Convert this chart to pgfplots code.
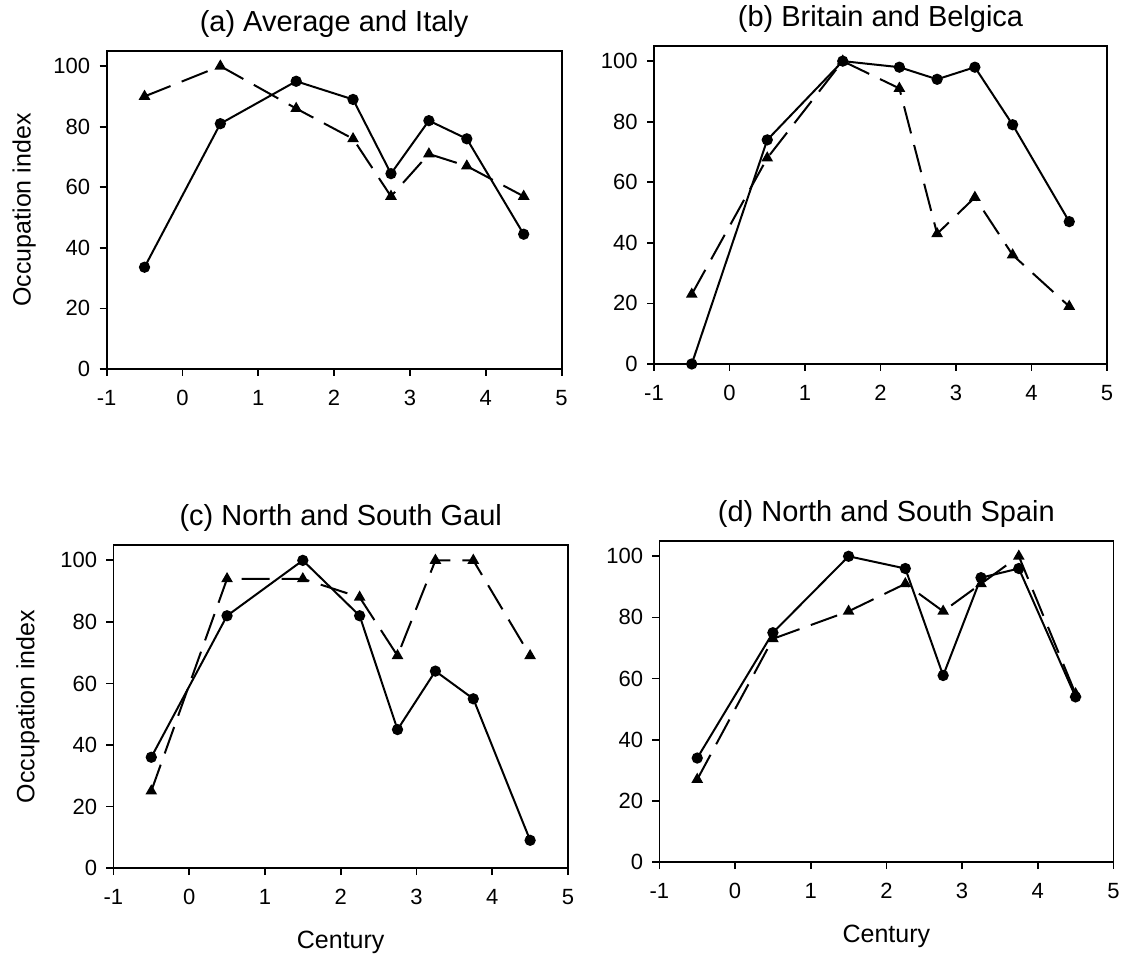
\documentclass[border=0pt]{standalone}
\usepackage{fontspec}
\setmainfont{Liberation Sans}
\usepackage{pgfplots}
\pgfplotsset{compat=1.18}
\pgfplotsset{
  panel/.style={
    scale only axis, width=227pt, height=160pt,
    xmin=-1, xmax=5, ymin=0, ymax=105,
    xtick={-1,0,1,2,3,4,5}, xticklabels={-1,0,1,2,3,4,5},
    ytick={0,20,40,60,80,100}, yticklabels={0,20,40,60,80,100},
    tick align=outside, xtick pos=left, ytick pos=left,
    major tick length=3.5pt,
    tick style={line width=0.9pt, black},
    axis line style={line width=0.9pt},
    clip=false,
    every tick label/.append style={font=\fontsize{11}{13}\selectfont},
    xticklabel style={anchor=north, inner sep=0pt, yshift=-7pt},
    yticklabel style={anchor=east, inner sep=0pt, xshift=-4.5pt},
    every axis title shift=0pt,
    title style={font=\fontsize{14.5}{17}\selectfont, at={(0.5,1)}, anchor=base, yshift=9.5pt},
    label style={font=\fontsize{12.5}{15}\selectfont},
    ylabel style={at={(axis description cs:-0.181,0.5)}, anchor=center, rotate=0},
    xlabel style={at={(axis description cs:0.5,-0.25)}, anchor=base},
  },
  solidser/.style={black, line width=1pt, mark=*, mark size=2.3pt, mark options={solid}},
  dashser/.style={black, line width=1pt, dash pattern=on 14pt off 6pt, mark=triangle*, mark size=2.4pt, mark options={solid}},
}
\begin{document}
\begin{tikzpicture}
\useasboundingbox (0,0) rectangle (561.5pt,478.5pt);
% (a)
\begin{axis}[panel, at={(53.3pt,294pt)}, anchor=south west, height=159pt, width=227.5pt,
  title={(a) Average and Italy}, ylabel={Occupation index}]
\addplot[solidser] coordinates {(-0.5,33.6) (0.5,81) (1.5,95) (2.25,89) (2.75,64.5) (3.25,82) (3.75,76) (4.5,44.5)};
\addplot[dashser] coordinates {(-0.5,90) (0.5,100) (1.5,86) (2.25,76) (2.75,57) (3.25,71) (3.75,67) (4.5,57)};
\end{axis}
% (b)
\begin{axis}[panel, at={(327pt,296.5pt)}, anchor=south west, height=159pt, width=226.5pt,
  title={(b) Britain and Belgica}]
\addplot[solidser] coordinates {(-0.5,0) (0.5,74) (1.5,100) (2.25,98) (2.75,94) (3.25,98) (3.75,79) (4.5,47)};
\addplot[dashser] coordinates {(-0.5,23) (0.5,68) (1.5,100) (2.25,91) (2.75,43) (3.25,55) (3.75,36) (4.5,19)};
\end{axis}
% (c)
\begin{axis}[panel, at={(56.7pt,44.5pt)}, anchor=south west, height=161.5pt, width=227.3pt,
  title={(c) North and South Gaul}, ylabel={Occupation index}, xlabel={Century},
  ylabel style={at={(axis description cs:-0.188,0.5)}}]
\addplot[solidser] coordinates {(-0.5,36) (0.5,82) (1.5,100) (2.25,82) (2.75,45) (3.25,64) (3.75,55) (4.5,9)};
\addplot[dashser] coordinates {(-0.5,25) (0.5,94) (1.5,94) (2.25,88) (2.75,69) (3.25,100) (3.75,100) (4.5,69)};
\end{axis}
% (d)
\begin{axis}[panel, at={(329.7pt,47.5pt)}, anchor=south west, height=160.5pt, width=227pt,
  title={(d) North and South Spain}, xlabel={Century}]
\addplot[solidser] coordinates {(-0.5,34) (0.5,75) (1.5,100) (2.25,96) (2.75,61) (3.25,93) (3.75,96) (4.5,54)};
\addplot[dashser] coordinates {(-0.5,27) (0.5,73) (1.5,82) (2.25,91) (2.75,82) (3.25,91) (3.75,100) (4.5,55)};
\end{axis}
\end{tikzpicture}
\end{document}
